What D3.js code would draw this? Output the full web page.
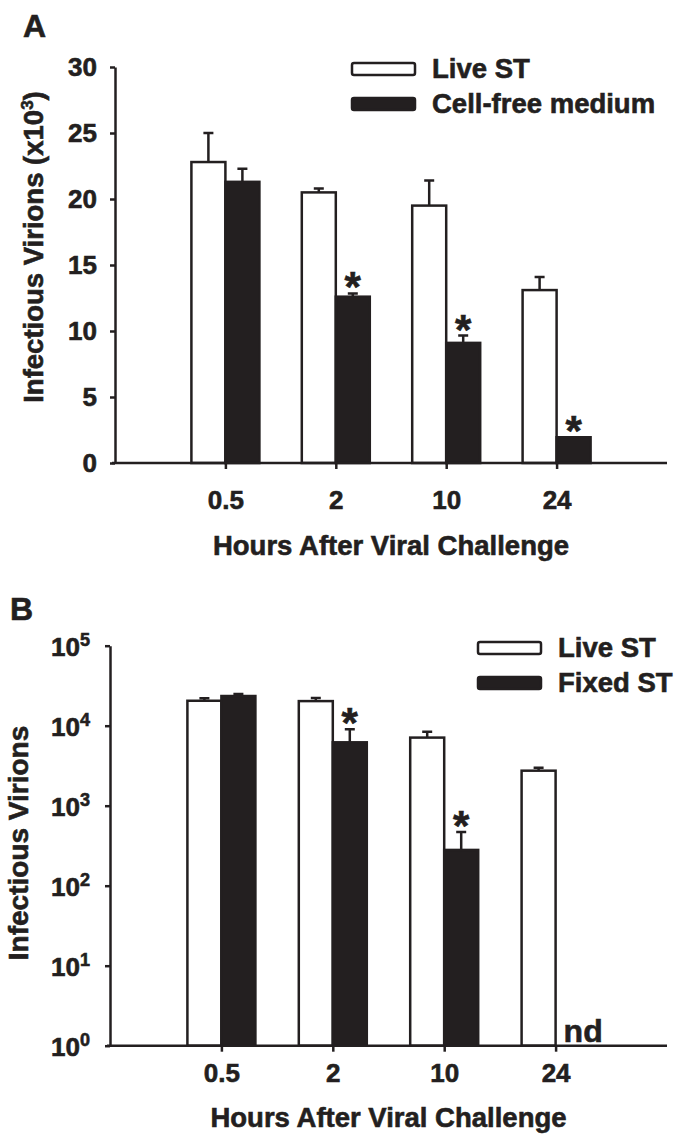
<!DOCTYPE html>
<html>
<head>
<meta charset="utf-8">
<script src="https://cdn.jsdelivr.net/npm/d3@7"></script>
<style>
    body { margin: 0; background: #fff; }
    svg text { font-family: "Liberation Sans", Arial, sans-serif; font-weight: bold; fill: #231f20; stroke: #231f20; stroke-width: 0.6; }
    .axis path, .axis line { stroke: #231f20; stroke-width: 2.5; }
    .axis text { font-size: 26px; }
    .title { font-size: 27.5px; }
</style>
</head>
<body>
<div id="chart"></div>
<script>
const hours = ["0.5", "2", "10", "24"]

// Panel A (x10^3 infectious virions)
const liveA = [22.8, 20.5, 19.5, 13.1]
const liveAErr = [2.2, 0.3, 1.9, 1.0]
const freeA = [21.3, 12.6, 9.1, 1.95]
const freeAErr = [1.0, 0.25, 0.55, 0]
const starA = [false, true, true, true]
const ticksA = [0, 5, 10, 15, 20, 25, 30]

// Panel B (infectious virions, log scale), null = not detected
const liveB = [20500, 20300, 7100, 2740]
const liveBErr = [1500, 1900, 1300, 250]
const fixedB = [23500, 6200, 280, null]
const fixedBErr = [1400, 2800, 190, null]
const starB = [false, true, true, false]
const ticksB = [1, 10, 100, 1000, 10000, 100000]

const ink = '#231f20'
const svg = d3.select('#chart').append('svg')
    .attr('width', 676)
    .attr('height', 1144)

function drawPanel(p) {
    const x = d3.scalePoint()
        .domain(hours)
        .range([p.left, p.right])
        .padding(1)
    const y = p.y
    const y0 = y.range()[0]
    const barW = 34
    const g = svg.append('g')

    //Bars
    g.selectAll('.live')
        .data(hours)
        .enter().append('rect')
        .attr('x', (d) => x(d) - barW)
        .attr('y', (d, i) => y(p.live[i]))
        .attr('width', barW)
        .attr('height', (d, i) => y0 - y(p.live[i]))
        .attr('fill', '#fff')
        .attr('stroke', ink)
        .attr('stroke-width', 2.5)
    const other = hours.map((d, i) => ({ h: d, v: p.other[i], e: p.otherErr[i], star: p.star[i] }))
        .filter((d) => d.v != null)
    g.selectAll('.other')
        .data(other)
        .enter().append('rect')
        .attr('x', (d) => x(d.h))
        .attr('y', (d) => y(d.v))
        .attr('width', barW)
        .attr('height', (d) => y0 - y(d.v))
        .attr('fill', ink)
        .attr('stroke', ink)
        .attr('stroke-width', 2.5)

    //Error bars
    const errs = hours.map((d, i) => ({ cx: x(d) - barW / 2, v: p.live[i], e: p.liveErr[i] }))
        .concat(other.map((d) => ({ cx: x(d.h) + barW / 2, v: d.v, e: d.e })))
        .filter((d) => d.e > 0)
    g.selectAll('.err')
        .data(errs)
        .enter().append('path')
        .attr('d', (d) => `M${d.cx},${y(d.v)}V${y(d.v + d.e)}M${d.cx - 5},${y(d.v + d.e)}H${d.cx + 5}`)
        .attr('fill', 'none')
        .attr('stroke', ink)
        .attr('stroke-width', 2.5)

    //Significance stars
    g.selectAll('.star')
        .data(other.filter((d) => d.star))
        .enter().append('text')
        .attr('x', (d) => x(d.h) + barW / 2)
        .attr('y', (d) => y(d.v + d.e) + 8)
        .attr('text-anchor', 'middle')
        .style('font-size', '42px')
        .text('*')

    //Not detected
    hours.forEach((d, i) => {
        if (p.other[i] == null) {
            g.append('text')
                .attr('x', x(d) + 8)
                .attr('y', y0 - 4)
                .style('font-size', '32px')
                .text('nd')
        }
    })

    //Axes
    g.append('g')
        .attr('class', 'axis')
        .attr('transform', `translate(0,${y0})`)
        .call(d3.axisBottom(x).tickSize(6).tickSizeOuter(0).tickPadding(p.xPad))
        .select('.domain')
        .attr('d', `M${p.left - 3},0H${p.right}`)
    const yAxis = g.append('g')
        .attr('class', 'axis')
        .attr('transform', `translate(${p.left},0)`)
        .call(p.yAxis)

    //x Axis Title
    g.append('text')
        .attr('class', 'title')
        .attr('x', (p.left + p.right) / 2)
        .attr('y', p.xTitleY)
        .attr('text-anchor', 'middle')
        .text('Hours After Viral Challenge')

    //Legend
    const leg = g.append('g')
        .attr('transform', `translate(${p.legX},${p.legY})`)
    leg.selectAll('rect')
        .data([{ fill: '#fff' }, { fill: ink }])
        .enter().append('rect')
        .attr('x', 0)
        .attr('y', (d, i) => i * 35)
        .attr('width', 63)
        .attr('height', 12)
        .attr('rx', 2)
        .attr('fill', (d) => d.fill)
        .attr('stroke', ink)
        .attr('stroke-width', 2.5)
    leg.selectAll('text')
        .data(p.names)
        .enter().append('text')
        .attr('class', 'title')
        .attr('x', 80)
        .attr('y', (d, i) => 15 + i * 35)
        .text((d) => d)

    //Panel letter
    g.append('text')
        .attr('x', p.letterX)
        .attr('y', p.letterY)
        .style('font-size', '32px')
        .text(p.letter)

    return yAxis
}

// Panel A
const yA = d3.scaleLinear().domain([0, 30]).range([463, 67])
drawPanel({
    letter: 'A', letterX: 23, letterY: 37,
    left: 115, right: 667, y: yA, xPad: 21.5, xTitleY: 555,
    yAxis: d3.axisLeft(yA).tickValues(ticksA).tickSize(5).tickSizeOuter(0).tickPadding(13),
    live: liveA, liveErr: liveAErr, other: freeA, otherErr: freeAErr, star: starA,
    names: ['Live ST', 'Cell-free medium'], legX: 352, legY: 63
})

//y Axis Title A
const titleA = svg.append('text')
    .attr('class', 'title')
    .attr('transform', 'translate(43,247) rotate(-90)')
    .attr('text-anchor', 'middle')
titleA.append('tspan').text('Infectious Virions (x10')
titleA.append('tspan').attr('dy', -10).style('font-size', '17px').text('3')
titleA.append('tspan').attr('dy', 10).text(')')

// Panel B
const yB = d3.scaleLog().domain([1, 100000]).range([1045.7, 645.7])
const yAxisB = drawPanel({
    letter: 'B', letterX: 10, letterY: 620,
    left: 110, right: 667, y: yB, xPad: 11.5, xTitleY: 1126.7,
    yAxis: d3.axisLeft(yB).tickValues(ticksB).tickSize(5).tickSizeOuter(0).tickPadding(15).tickFormat(''),
    live: liveB, liveErr: liveBErr, other: fixedB, otherErr: fixedBErr, star: starB,
    names: ['Live ST', 'Fixed ST'], legX: 478, legY: 642
})
yAxisB.selectAll('.tick text')
    .attr('dy', null)
    .attr('y', 9.3)
    .each(function (d) {
        const t = d3.select(this)
        t.append('tspan').text('10')
        t.append('tspan').attr('dy', -9.3).style('font-size', '18px').text(Math.round(Math.log10(d)))
    })

//y Axis Title B
svg.append('text')
    .attr('class', 'title')
    .attr('transform', 'translate(28,843) rotate(-90)')
    .attr('text-anchor', 'middle')
    .style('font-size', '28px')
    .text('Infectious Virions')
</script>
</body>
</html>
